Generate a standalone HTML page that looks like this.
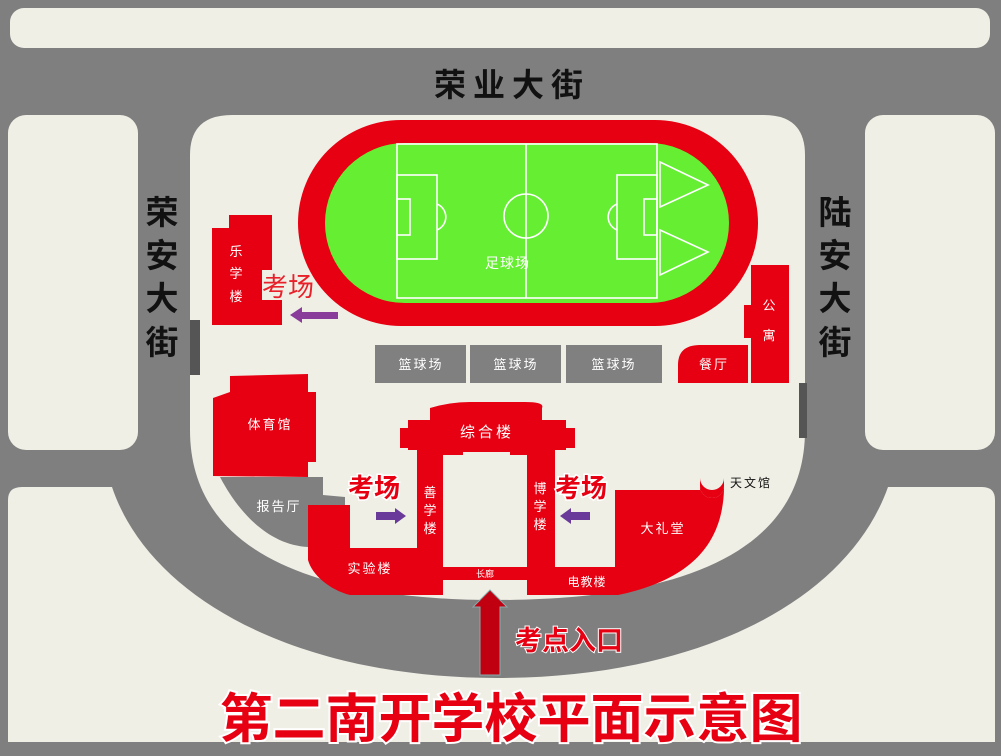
<!DOCTYPE html>
<html><head><meta charset="utf-8"><style>
html,body{margin:0;padding:0;background:#808080}
svg{display:block}
text{font-family:"Liberation Sans","Noto Sans CJK SC",sans-serif}
</style></head><body>
<svg width="1001" height="756" viewBox="0 0 1001 756" xmlns="http://www.w3.org/2000/svg">
<rect x="0" y="0" width="1001" height="756" fill="#7f7f7f"/>
<rect x="10" y="8" width="980" height="40" rx="14" fill="#f0efe6"/>
<rect x="8" y="115" width="130" height="335" rx="18" fill="#f0efe6"/>
<rect x="865" y="115" width="130" height="335" rx="18" fill="#f0efe6"/>
<path d="M8,500 Q8,487 22,487 L112,487 C150,600 300,678 497,678 C700,678 848,600 888,487 L982,487 Q995,487 995,500 L995,742 L8,742 Z" fill="#f0efe6"/>
<path d="M190,155 Q190,115 232,115 L764,115 Q805,115 805,155 L805,430 C805,560 665,600 497,600 C330,600 190,560 190,430 Z" fill="#f0efe6"/>
<rect x="190" y="320" width="10" height="55" fill="#555"/>
<rect x="799" y="383" width="8" height="55" fill="#555"/>
<rect x="298" y="120" width="460" height="206" rx="103" fill="#e60012"/>
<rect x="325" y="143" width="404" height="160" rx="80" fill="#66ee33"/>
<g stroke="#fff" stroke-width="1.6" fill="none">
<rect x="397" y="144" width="260" height="154"/>
<line x1="526" y1="144" x2="526" y2="298"/>
<circle cx="526" cy="216" r="22"/>
<rect x="397" y="175" width="40" height="84"/>
<rect x="397" y="199" width="13" height="36"/>
<rect x="617" y="175" width="40" height="84"/>
<rect x="644" y="199" width="13" height="36"/>
<path d="M437,204 A14,14 0 0 1 437,230"/>
<path d="M617,204 A14,14 0 0 0 617,230"/>
<path d="M660,162 L708,185 L660,207 Z"/>
<path d="M660,230 L708,252 L660,275 Z"/>
</g>
<text x="485" y="268" font-size="14" fill="#fff" letter-spacing="1">足球场</text>
<path d="M212,228 L229,228 L229,215 L272,215 L272,270 L262,270 L262,300 L282,300 L282,325 L212,325 Z" fill="#e60012"/>
<text x="236" y="256" font-size="13" fill="#fff" text-anchor="middle">乐</text>
<text x="236" y="278" font-size="13" fill="#fff" text-anchor="middle">学</text>
<text x="236" y="301" font-size="13" fill="#fff" text-anchor="middle">楼</text>
<text x="262" y="296" font-size="26" fill="#e8202a">考场</text>
<path d="M290,315 L302,307 L302,312 L338,312 L338,319 L302,319 L302,323 Z" fill="#8a3c9a"/>
<g fill="#808080"><rect x="375" y="345" width="91" height="38"/><rect x="470" y="345" width="91" height="38"/><rect x="566" y="345" width="96" height="38"/></g>
<g font-size="13" fill="#fff" text-anchor="middle" letter-spacing="2"><text x="421" y="369">篮球场</text><text x="516" y="369">篮球场</text><text x="614" y="369">篮球场</text></g>
<path d="M751,265 L789,265 L789,383 L751,383 L751,338 L744,338 L744,305 L751,305 Z" fill="#e60012"/>
<text x="769" y="310" font-size="13" fill="#fff" text-anchor="middle">公</text>
<text x="769" y="340" font-size="13" fill="#fff" text-anchor="middle">寓</text>
<path d="M678,383 L678,365 Q678,345 700,345 L748,345 L748,383 Z" fill="#e60012"/>
<text x="714" y="369" font-size="13" fill="#fff" text-anchor="middle" letter-spacing="2">餐厅</text>
<path d="M230,376 L308,374 L308,392 L316,392 L316,462 L308,462 L308,477 L213,476 L213,398 L230,392 Z" fill="#e60012"/>
<text x="270" y="429" font-size="13" fill="#fff" text-anchor="middle" letter-spacing="2">体育馆</text>
<path d="M220,477 L323,477 L323,495 L345,497 L345,505 L308,505 L308,547 C270,545 240,515 220,477 Z" fill="#808080"/>
<text x="279" y="511" font-size="13" fill="#fff" text-anchor="middle" letter-spacing="2">报告厅</text>
<g fill="#e60012">
<path d="M308,505 L350,505 L350,548 L417,548 L417,595 L350,595 C330,590 312,575 308,560 Z"/>
<path d="M430,408 Q450,402 470,402 L525,402 Q545,402 542,408 L542,420 L566,420 L566,428 L575,428 L575,448 L566,448 L566,450 L555,450 L555,595 L527,595 L527,455 L510,455 L510,452 L463,452 L463,455 L443,455 L443,595 L417,595 L417,450 L408,450 L408,448 L400,448 L400,428 L408,428 L408,420 L430,420 Z"/>
<rect x="443" y="567" width="84" height="13"/>
<rect x="555" y="567" width="63" height="28"/>
<path d="M615,490 L700,490 L700,486 A12,12 0 0 0 724,486 L724,490 C722,545 690,580 618,595 L615,595 Z"/>
</g>
<path d="M700,486 L700,478 A12,12 0 0 0 724,478 L724,486 A12,12 0 0 1 700,486 Z" fill="#e60012"/>
<text x="487" y="437" font-size="15" fill="#fff" text-anchor="middle" letter-spacing="3">综合楼</text>
<text x="430" y="497" font-size="13" fill="#fff" text-anchor="middle">善</text>
<text x="430" y="515" font-size="13" fill="#fff" text-anchor="middle">学</text>
<text x="430" y="533" font-size="13" fill="#fff" text-anchor="middle">楼</text>
<text x="540" y="493" font-size="13" fill="#fff" text-anchor="middle">博</text>
<text x="540" y="511" font-size="13" fill="#fff" text-anchor="middle">学</text>
<text x="540" y="529" font-size="13" fill="#fff" text-anchor="middle">楼</text>
<text x="485" y="577" font-size="9" fill="#fff" text-anchor="middle">长廊</text>
<text x="370" y="573" font-size="13" fill="#fff" text-anchor="middle" letter-spacing="2">实验楼</text>
<text x="587" y="586" font-size="12" fill="#fff" text-anchor="middle" letter-spacing="1">电教楼</text>
<text x="663" y="533" font-size="13" fill="#fff" text-anchor="middle" letter-spacing="2">大礼堂</text>
<text x="730" y="487" font-size="12" fill="#111" letter-spacing="2">天文馆</text>
<g font-size="26" font-weight="bold" fill="#e60012" stroke="#fff" stroke-width="3" paint-order="stroke">
<text x="348" y="497">考场</text><text x="555" y="497">考场</text>
</g>
<path d="M406,516 L395,508 L395,512 L376,512 L376,520 L395,520 L395,524 Z" fill="#6a3a9a"/>
<path d="M560,516 L571,508 L571,512 L590,512 L590,520 L571,520 L571,524 Z" fill="#6a3a9a"/>
<path d="M490,590 L507,607 L500,607 L500,675 L480,675 L480,607 L473,607 Z" fill="#c00010" stroke="#8aa" stroke-width="1"/>
<text x="515" y="650" font-size="27" font-weight="bold" fill="#e60012" stroke="#fff" stroke-width="2" paint-order="stroke">考点入口</text>
<text x="512" y="96" font-size="32" font-weight="bold" fill="#111" text-anchor="middle" letter-spacing="7">荣业大街</text>
<g font-size="33" font-weight="bold" fill="#111" text-anchor="middle">
<text x="162" y="224">荣</text><text x="162" y="267">安</text><text x="162" y="310">大</text><text x="162" y="354">街</text>
<text x="835" y="224">陆</text><text x="835" y="267">安</text><text x="835" y="310">大</text><text x="835" y="354">街</text>
</g>
<text x="511" y="737" font-size="53" font-weight="bold" fill="#e60012" stroke="#fff" stroke-width="4" paint-order="stroke" text-anchor="middle">第二南开学校平面示意图</text>
</svg>
</body></html>
